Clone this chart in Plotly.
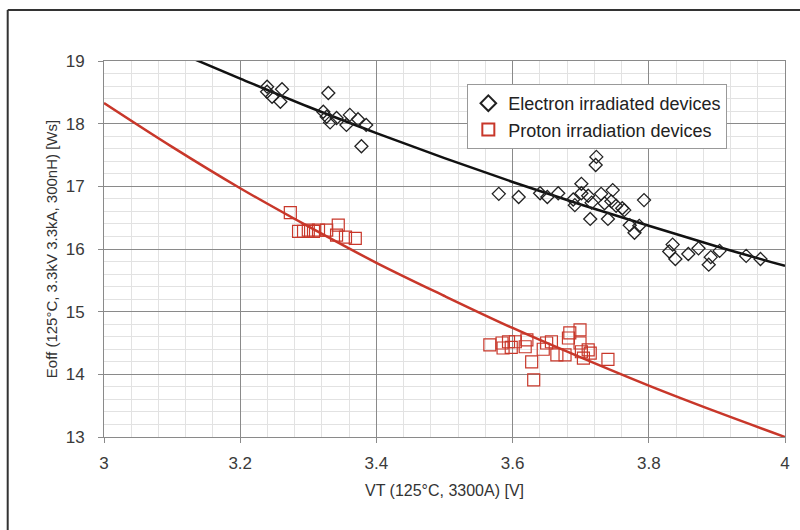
import plotly.graph_objects as go

# Electron irradiated devices
e_vt = [3.2395, 3.2395, 3.2468, 3.2614, 3.259, 3.3294, 3.322, 3.327, 3.332, 3.3415,
        3.361, 3.356, 3.373, 3.385, 3.378,
        3.5797, 3.6089, 3.6404, 3.651, 3.667, 3.689, 3.6914, 3.701, 3.701, 3.711,
        3.716, 3.714, 3.723, 3.722, 3.730, 3.735, 3.740, 3.747, 3.745, 3.752,
        3.761, 3.764, 3.772, 3.779, 3.786, 3.793, 3.835, 3.830, 3.839, 3.858,
        3.873, 3.891, 3.888, 3.904, 3.943, 3.964]
e_eoff = [18.59, 18.51, 18.43, 18.55, 18.35, 18.49, 18.19, 18.11, 18.02, 18.09,
          18.14, 17.98, 18.07, 17.98, 17.64,
          16.88, 16.83, 16.89, 16.83, 16.89, 16.79, 16.70, 17.04, 16.89, 16.85,
          16.74, 16.48, 17.47, 17.34, 16.88, 16.73, 16.48, 16.94, 16.76, 16.69,
          16.65, 16.62, 16.38, 16.26, 16.37, 16.78, 16.07, 15.96, 15.84, 15.92,
          16.01, 15.87, 15.75, 15.97, 15.89, 15.84]

# Proton irradiation devices
p_vt = [3.2736, 3.2857, 3.293, 3.300, 3.3076, 3.315, 3.327, 3.344, 3.3415, 3.3546, 3.369,
        3.5666, 3.5845, 3.586, 3.594, 3.598, 3.604, 3.6185, 3.621, 3.628, 3.631,
        3.645, 3.650, 3.657, 3.665, 3.677, 3.682, 3.684, 3.699, 3.699, 3.701,
        3.704, 3.711, 3.714, 3.740]
p_eoff = [16.58, 16.28, 16.28, 16.30, 16.28, 16.30, 16.30, 16.38, 16.22, 16.19, 16.17,
          14.47, 14.50, 14.42, 14.52, 14.43, 14.52, 14.44, 14.55, 14.20, 13.91,
          14.40, 14.50, 14.52, 14.31, 14.31, 14.58, 14.66, 14.71, 14.50, 14.36,
          14.26, 14.39, 14.34, 14.24]

# Trend lines
e_fit_vt = [3.13, 3.2, 3.3, 3.4, 3.5, 3.6, 3.7, 3.8, 3.9, 4.0]
e_fit_eoff = [19.04, 18.72, 18.27, 17.85, 17.45, 17.07, 16.71, 16.37, 16.04, 15.73]
p_fit_vt = [3.0, 3.1, 3.2, 3.3, 3.4, 3.5, 3.6, 3.7, 3.8, 3.9, 4.0]
p_fit_eoff = [18.33, 17.63, 16.97, 16.36, 15.78, 15.25, 14.74, 14.27, 13.82, 13.40, 13.00]

x_ticks = [3, 3.2, 3.4, 3.6, 3.8, 4]
x_tick_text = ["3", "3.2", "3.4", "3.6", "3.8", "4"]
y_ticks = [13, 14, 15, 16, 17, 18, 19]

RED = "#c8372a"
FONT = "Liberation Sans, Arial, sans-serif"

L, R, T, B = 104, 10, 61, 93
PW, PH = 800 - L - R, 530 - T - B

fig = go.Figure()
fig.add_trace(go.Scatter(x=e_fit_vt, y=e_fit_eoff, mode="lines", line=dict(color="#111111", width=2.5, shape="spline"),
                         showlegend=False, hoverinfo="skip"))
fig.add_trace(go.Scatter(x=p_fit_vt, y=p_fit_eoff, mode="lines", line=dict(color=RED, width=2.5, shape="spline"),
                         showlegend=False, hoverinfo="skip"))
fig.add_trace(go.Scatter(x=e_vt, y=e_eoff, mode="markers", name="Electron irradiated devices",
                         marker=dict(symbol="diamond-open", size=10, color="#222222", line=dict(width=1.3))))
fig.add_trace(go.Scatter(x=p_vt, y=p_eoff, mode="markers", name="Proton irradiation devices",
                         marker=dict(symbol="square-open", size=12, color=RED, line=dict(width=1.2))))

fx = (7 - L) / PW
fy = (530 - B - 10) / PH
fig.update_layout(
    width=800, height=530,
    margin=dict(l=L, r=R, t=T, b=B),
    paper_bgcolor="white", plot_bgcolor="white",
    font=dict(family=FONT, size=17, color="#3a3a3a"),
    legend=dict(x=(470 - L) / PW, y=(530 - B - 84) / PH, xanchor="left", yanchor="top",
                bgcolor="white", bordercolor="#999999", borderwidth=1,
                font=dict(size=18, color="#222222"), itemsizing="constant",
                tracegroupgap=0, itemwidth=30),
    shapes=[dict(type="line", xref="paper", yref="paper", x0=fx, x1=fx, y0=-0.6, y1=fy,
                 line=dict(color="#333333", width=2), layer="below"),
            dict(type="line", xref="paper", yref="paper", x0=fx, x1=1.2, y0=fy, y1=fy,
                 line=dict(color="#333333", width=2), layer="below")],
)
fig.update_xaxes(range=[3, 4], tickvals=x_ticks, ticktext=x_tick_text,
                 showgrid=True, gridcolor="#8a8a8a", gridwidth=1.2,
                 minor=dict(dtick=0.04, tick0=3, showgrid=True, gridcolor="#e2e2e2", gridwidth=1),
                 showline=True, linecolor="#8a8a8a", mirror=True,
                 ticks="outside", ticklen=5, tickcolor="#8a8a8a", ticklabelstandoff=6,
                 zeroline=False,
                 title=dict(text="VT (125°C, 3300A) [V]", font=dict(size=16, color="#333333"), standoff=12))
fig.update_yaxes(range=[13, 19], tickvals=y_ticks,
                 showgrid=True, gridcolor="#8a8a8a", gridwidth=1.2,
                 minor=dict(dtick=0.2, tick0=13, showgrid=True, gridcolor="#e2e2e2", gridwidth=1),
                 showline=True, linecolor="#8a8a8a", mirror=True,
                 ticks="outside", ticklen=5, tickcolor="#8a8a8a", ticklabelstandoff=10,
                 zeroline=False,
                 title=dict(text="Eoff (125°C, 3.3kV 3.3kA, 300nH) [Ws]", font=dict(size=15, color="#333333"), standoff=4))

fig.write_html("out.html")
